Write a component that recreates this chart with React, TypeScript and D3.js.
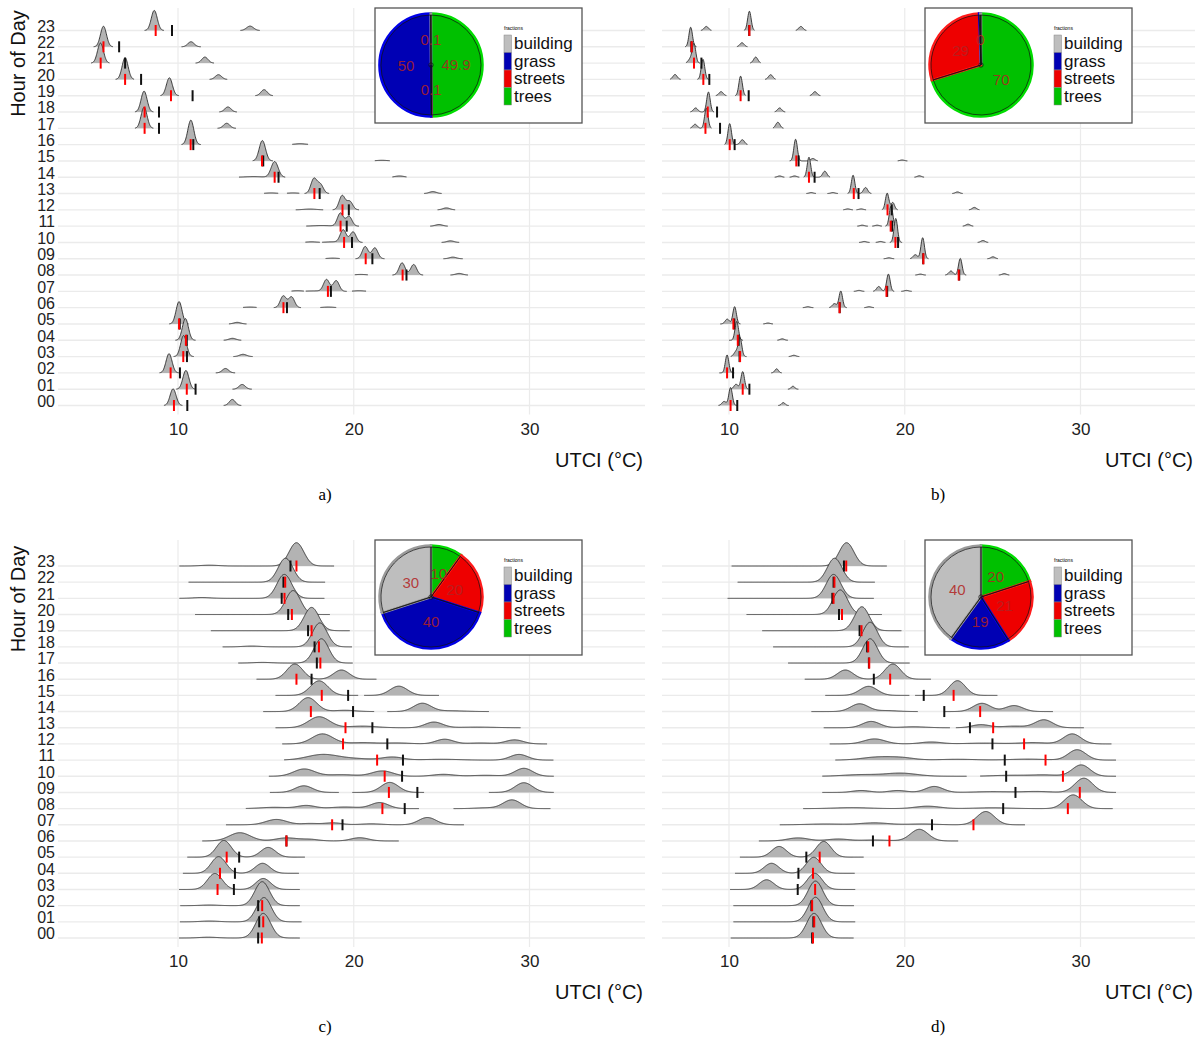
import { useEffect, useRef } from 'react'
import * as d3 from 'd3'

// hour labels, bottom row first
const hours = ['00', '01', '02', '03', '04', '05', '06', '07', '08', '09', '10', '11',
  '12', '13', '14', '15', '16', '17', '18', '19', '20', '21', '22', '23']

const categories = ['building', 'grass', 'streets', 'trees']
const catFill = ['#bebebe', '#0000b4', '#ee0000', '#00c000']
const catRing = ['#9a9a9a', '#0000e6', '#ff1a1a', '#00dc00']

// each row: list of pieces [lo, hi, mu, sd, h, mu, sd, h, ...] (UTCI °C, h in row heights)
const ridgesA: number[][][] = [
  [[9.2, 10.25, 9.72, .17, 1.02], [12.6, 13.6, 13.09, .17, .37]],
  [[9.9, 11.0, 10.45, .17, 1.15], [13.1, 14.2, 13.65, .18, .29]],
  [[8.95, 10.05, 9.49, .17, 1.18], [12.15, 13.25, 12.7, .18, .27]],
  [[9.75, 10.9, 10.32, .17, 1.29], [13.15, 14.25, 13.7, .2, .14]],
  [[9.85, 11.0, 10.42, .17, 1.33], [12.6, 13.6, 13.1, .2, .12]],
  [[9.5, 10.6, 10.06, .17, 1.37], [12.9, 13.9, 13.37, .2, .1]],
  [[13.7, 14.47, 14.1, .3, .04], [15.45, 17.0, 15.99, .17, .72, 16.46, .17, .66], [18.1, 19.0, 18.55, .3, .04]],
  [[16.46, 17.16, 16.8, .3, .04], [17.27, 19.6, 17.8, .5, .03, 18.45, .17, .72, 19.0, .17, .66], [19.9, 20.7, 20.3, .3, .04]],
  [[20.06, 20.8, 20.4, .3, .04], [22.2, 23.95, 22.75, .17, .75, 23.41, .17, .65], [25.5, 26.5, 26.0, .2, .1]],
  [[18.4, 19.2, 18.8, .3, .04], [20.1, 21.75, 20.65, .17, .75, 21.2, .17, .67], [25.1, 26.2, 25.64, .2, .1]],
  [[17.25, 18.07, 17.6, .3, .04], [18.2, 20.5, 18.8, .4, .04, 19.4, .17, .77, 19.96, .17, .65], [25.0, 26.0, 25.5, .2, .1]],
  [[17.3, 20.3, 18.2, .5, .04, 19.24, .17, .8, 19.73, .17, .6], [24.35, 25.35, 24.85, .2, .1]],
  [[16.7, 18.26, 17.5, .35, .05], [18.8, 20.3, 19.34, .17, .87, 19.77, .17, .52], [24.77, 25.77, 25.27, .2, .12]],
  [[14.9, 15.7, 15.3, .3, .04], [16.2, 16.9, 16.55, .3, .04], [17.2, 18.6, 17.73, .17, .9, 18.1, .17, .55], [24.0, 25.0, 24.5, .2, .12]],
  [[13.47, 16.1, 14.3, .5, .04, 15.5, .2, .96], [22.2, 23.0, 22.6, .25, .08]],
  [[14.25, 15.4, 14.8, .18, 1.25], [21.2, 22.05, 21.6, .3, .04]],
  [[10.2, 11.3, 10.73, .17, 1.5], [16.5, 17.4, 16.95, .3, .06]],
  [[7.55, 8.6, 8.07, .17, 1.29], [12.25, 13.3, 12.77, .18, .31]],
  [[7.55, 8.6, 8.07, .17, 1.28], [12.35, 13.35, 12.84, .18, .31]],
  [[9.0, 10.05, 9.51, .17, 1.1], [14.4, 15.4, 14.9, .18, .37]],
  [[6.45, 7.5, 6.99, .17, 1.33], [11.8, 12.8, 12.3, .18, .29]],
  [[5.05, 6.1, 5.59, .17, 1.23], [11.0, 12.05, 11.53, .18, .37]],
  [[5.2, 6.3, 5.76, .17, 1.26], [10.2, 11.3, 10.74, .18, .31]],
  [[8.1, 9.2, 8.65, .17, 1.23], [13.55, 14.65, 14.1, .2, .27]],
]
const redA = [9.77, 10.5, 9.58, 10.3, 10.45, 10.06, 16.0, 18.53, 22.78, 20.68, 19.45, 19.25,
  19.36, 17.76, 15.5, 14.78, 10.72, 8.1, 8.1, 9.6, 6.99, 5.6, 5.76, 8.73]
const blackA = [10.53, 11.0, 10.11, 10.51, 10.5, 10.1, 16.2, 18.7, 23.0, 21.06, 19.9, 19.6,
  19.72, 18.06, 15.72, 14.85, 10.87, 8.92, 8.92, 10.83, 7.9, 6.99, 6.65, 9.66]

const ridgesB: number[][][] = [
  [[9.4, 10.45, 9.72, .12, .25, 10.09, .1, 1.1], [12.8, 13.4, 13.09, .1, .18]],
  [[10.1, 11.1, 10.4, .12, .3, 10.78, .1, 1.08], [13.35, 13.95, 13.64, .1, .18]],
  [[9.45, 10.3, 9.89, .1, 1.1], [12.4, 13.0, 12.71, .1, .25]],
  [[10.1, 11.0, 10.4, .12, .3, 10.63, .1, 1.12], [13.4, 14.0, 13.69, .12, .08]],
  [[10.0, 10.8, 10.44, .1, 1.15], [12.75, 13.35, 13.03, .12, .09]],
  [[9.5, 10.65, 9.9, .12, .3, 10.32, .1, 1.06], [11.95, 12.5, 12.22, .12, .06]],
  [[14.2, 14.8, 14.49, .12, .06], [15.7, 16.7, 16.0, .12, .25, 16.36, .1, 1.02], [17.7, 18.25, 17.97, .12, .06]],
  [[17.1, 17.7, 17.4, .12, .06], [18.2, 19.4, 18.52, .12, .3, 19.07, .1, 1.06], [19.8, 20.4, 20.1, .12, .06]],
  [[20.6, 21.2, 20.89, .12, .06], [22.3, 23.5, 22.63, .12, .25, 23.16, .1, 1.02], [25.35, 25.95, 25.66, .12, .09]],
  [[18.8, 19.4, 19.1, .12, .06], [20.3, 21.35, 20.6, .12, .25, 21.02, .1, 1.29], [24.7, 25.3, 25.02, .12, .12]],
  [[17.4, 18.0, 17.7, .12, .06], [18.35, 18.9, 18.62, .12, .06], [19.15, 19.85, 19.49, .1, 1.47], [24.15, 24.75, 24.45, .12, .12]],
  [[17.3, 17.9, 17.58, .12, .06], [18.15, 18.7, 18.43, .12, .06], [18.9, 19.6, 19.22, .1, 1.23], [23.3, 23.9, 23.6, .12, .12]],
  [[16.5, 17.05, 16.76, .12, .06], [17.25, 17.8, 17.52, .12, .06], [18.7, 19.6, 19.0, .1, 1.02, 19.32, .1, .45], [23.65, 24.25, 23.96, .12, .15]],
  [[14.4, 14.95, 14.68, .12, .06], [15.6, 16.2, 15.91, .12, .06], [16.75, 18.1, 17.06, .1, 1.12, 17.77, .12, .37], [22.7, 23.3, 23.0, .12, .1]],
  [[12.6, 13.15, 12.88, .12, .08], [13.45, 14.0, 13.73, .12, .08], [14.25, 15.75, 14.55, .1, 1.23, 15.45, .12, .37], [20.55, 21.1, 20.83, .12, .09]],
  [[13.45, 15.05, 13.79, .1, 1.33, 14.77, .12, .15], [19.6, 20.15, 19.85, .12, .06]],
  [[9.75, 11.05, 10.04, .1, 1.29, 10.76, .12, .3]],
  [[7.8, 9.0, 8.07, .12, .25, 8.71, .1, 1.23], [12.5, 13.1, 12.78, .12, .37]],
  [[7.8, 9.15, 8.1, .12, .25, 8.83, .1, 1.23], [12.6, 13.2, 12.88, .12, .25]],
  [[9.25, 9.85, 9.55, .12, .25], [10.35, 10.95, 10.66, .1, 1.2], [14.6, 15.2, 14.89, .12, .25]],
  [[6.65, 7.25, 6.93, .12, .3], [8.2, 8.85, 8.52, .1, 1.23], [12.05, 12.65, 12.37, .12, .29]],
  [[7.55, 8.35, 7.8, .12, .25, 8.01, .1, 1.15], [11.2, 11.8, 11.52, .12, .37]],
  [[7.5, 8.15, 7.82, .1, 1.2], [10.45, 11.05, 10.74, .12, .25]],
  [[8.4, 9.0, 8.71, .12, .25], [10.85, 11.45, 11.16, .1, 1.18], [13.8, 14.4, 14.09, .12, .25]],
]
const redB = [10.09, 10.78, 9.89, 10.63, 10.5, 10.25, 16.29, 18.96, 23.07, 21.06, 19.47, 19.2,
  19.02, 17.1, 14.55, 13.83, 10.04, 8.66, 8.79, 10.66, 8.54, 8.01, 7.88, 11.16]
const blackB = [10.47, 11.16, 10.23, 10.6, 10.55, 10.3, 16.3, 19.0, 23.1, 21.05, 19.62, 19.28,
  19.26, 17.37, 14.87, 13.96, 10.32, 9.49, 9.32, 11.12, 8.88, 8.43, 7.86, 11.15]

const ridgesC: number[][][] = [
  [[10.06, 16.93, 11.72, .5, .05, 14.85, .42, 1.52]],
  [[10.11, 17.03, 11.8, .5, .05, 14.89, .42, 1.5]],
  [[10.13, 16.93, 11.8, .5, .04, 14.79, .42, 1.48]],
  [[10.06, 16.93, 12.1, .42, .99, 14.85, .42, .68]],
  [[10.28, 16.88, 12.31, .42, 1.03, 14.81, .42, .62]],
  [[10.53, 17.22, 12.61, .42, 1.03, 15.13, .42, .6]],
  [[11.38, 22.56, 13.52, .6, .51, 16.17, .6, .19, 17.5, .5, .1, 20.34, .5, .2]],
  [[12.73, 26.27, 15.6, .6, .33, 17.5, .5, .08, 18.83, .5, .12, 21.0, .6, .06, 24.19, .5, .45]],
  [[13.86, 23.71, 15.5, .8, .08, 17.31, .5, .19, 19.5, .8, .1, 21.48, .5, .37], [25.68, 31.19, 27.5, .6, .05, 29.0, .5, .54]],
  [[15.23, 19.15, 17.16, .5, .41], [19.92, 24.0, 22.05, .5, .62], [27.69, 31.38, 29.68, .5, .6]],
  [[15.17, 31.38, 17.18, .6, .45, 19.3, .8, .1, 21.63, .6, .33, 25.1, .6, .12, 27.5, .8, .06, 29.68, .5, .49]],
  [[16.04, 31.36, 18.26, .9, .35, 20.2, .8, .08, 22.2, .6, .19, 25.0, 1, .05, 29.4, .5, .35]],
  [[15.93, 31.0, 18.22, .6, .62, 20.5, .8, .08, 22.5, .7, .06, 25.17, .5, .29, 27.2, .7, .06, 29.15, .5, .25]],
  [[15.55, 29.49, 18.03, .6, .68, 20.5, .8, .1, 24.56, .5, .35, 27.0, 1, .04]],
  [[14.85, 21.16, 17.4, .5, .86, 19.5, .6, .08], [21.91, 27.69, 23.9, .5, .51, 25.5, .8, .05]],
  [[15.55, 20.25, 18.03, .5, .9], [20.59, 24.85, 22.56, .5, .57]],
  [[14.47, 21.29, 16.65, .45, .94, 19.3, .45, .57]],
  [[13.43, 19.94, 14.8, .5, .04, 18.16, .42, 1.5]],
  [[12.54, 19.9, 14.2, .5, .05, 18.07, .42, 1.48]],
  [[11.87, 19.77, 17.6, .42, 1.44]],
  [[10.97, 18.64, 16.55, .42, 1.48]],
  [[10.08, 18.33, 11.36, .5, .05, 16.05, .42, 1.48]],
  [[10.6, 18.37, 16.12, .42, 1.48]],
  [[10.08, 18.88, 11.8, .5, .05, 16.74, .42, 1.44]],
]
const redC = [14.77, 14.85, 14.79, 12.25, 12.39, 12.77, 16.17, 18.77, 21.63, 22.0, 21.76, 21.33,
  19.39, 19.53, 17.56, 18.18, 16.74, 18.1, 18.02, 17.6, 16.48, 16.06, 16.1, 16.74]
const blackC = [14.56, 14.62, 14.56, 13.18, 13.24, 13.48, 16.17, 19.36, 22.9, 23.62, 22.75, 22.8,
  21.91, 21.06, 19.96, 19.68, 17.6, 17.9, 17.77, 17.4, 16.27, 15.9, 16.0, 16.4]

const ridgesD: number[][][] = [
  [[10.1, 17.09, 14.84, .42, 1.52]],
  [[10.25, 17.18, 14.92, .42, 1.52]],
  [[10.25, 17.11, 14.92, .42, 1.52]],
  [[10.06, 17.18, 12.14, .42, .6, 14.88, .42, 1.0]],
  [[10.34, 17.15, 12.42, .42, .62, 14.82, .42, .99]],
  [[10.62, 17.66, 12.85, .42, .66, 15.39, .42, .97]],
  [[11.7, 23.04, 13.93, .6, .19, 16.2, .6, .12, 18.3, .8, .06, 20.83, .5, .72]],
  [[12.89, 26.84, 15.5, 1, .05, 18.28, .8, .12, 21.0, .8, .05, 24.61, .5, .82]],
  [[14.22, 31.83, 17.0, 1, .06, 21.3, .7, .15, 25.0, 1, .05, 29.58, .5, .85]],
  [[15.31, 32.02, 17.52, .5, .12, 19.6, .5, .12, 21.68, .5, .37, 25.0, 1, .05, 27.5, .8, .06, 30.19, .5, .88]],
  [[15.31, 23.52, 17.5, 1, .1, 19.79, .9, .19], [24.29, 32.02, 26.0, 1, .06, 28.0, .8, .08, 30.04, .5, .7]],
  [[16.05, 32.02, 18.5, .9, .19, 19.9, .7, .12, 23.0, 1, .05, 27.0, 1, .06, 29.81, .5, .64]],
  [[15.73, 31.76, 18.28, .6, .31, 21.5, .6, .12, 24.5, 1, .05, 27.3, .8, .08, 29.53, .5, .62]],
  [[15.39, 22.57, 18.09, .5, .39, 20.5, .7, .06], [22.91, 30.19, 24.33, .5, .19, 26.2, .7, .1, 27.92, .5, .49]],
  [[14.69, 20.74, 17.43, .5, .48, 19.0, .6, .06], [22.25, 28.43, 24.39, .5, .51, 26.22, .5, .37]],
  [[15.48, 20.26, 17.94, .5, .56], [20.59, 25.27, 23.0, .45, .91]],
  [[14.31, 21.49, 16.62, .45, .57, 19.32, .45, .94]],
  [[13.36, 20.28, 18.03, .42, 1.5]],
  [[12.51, 20.23, 18.03, .42, 1.52]],
  [[11.89, 19.81, 17.56, .42, 1.48]],
  [[11.0, 18.7, 16.33, .42, 1.52]],
  [[9.92, 18.24, 15.95, .42, 1.48]],
  [[10.49, 18.3, 16.01, .42, 1.48]],
  [[10.15, 18.98, 16.69, .42, 1.44]],
]
const redD = [14.78, 14.85, 14.73, 14.9, 14.78, 15.16, 19.13, 23.91, 29.28, 29.96, 29.0, 28.01,
  26.79, 25.03, 24.29, 22.78, 19.17, 17.98, 17.92, 17.54, 16.43, 15.95, 16.0, 16.67]
const blackD = [14.73, 14.8, 14.69, 13.91, 13.95, 14.4, 18.19, 21.55, 25.6, 26.3, 25.77, 25.69,
  24.99, 23.71, 22.25, 21.08, 18.24, 17.96, 17.86, 17.43, 16.26, 15.88, 15.95, 16.54]

// land cover fractions in %, order as categories
const pieA = [0.1, 50, 0.1, 49.9]
const pieB = [0.2, 0.4, 29.2, 70.2]
const pieC = [30, 40, 20, 10]
const pieD = [40, 19, 21, 20]
const pieLabelsA = ['0.1', '50', '0.1', '49.9']
const pieLabelsB = ['', '0', '29', '70']
const pieLabelsC = ['30', '40', '20', '10']
const pieLabelsD = ['40', '19', '21', '20']

const xTicks = [10, 20, 30]
const sans = '"Liberation Sans", Arial, Helvetica, sans-serif'

function densityPoints(piece: number[]) {
  const lo = piece[0]
  const hi = piece[1]
  const n = Math.max(30, Math.ceil((hi - lo) / 0.02))
  const pts: [number, number][] = []
  for (let i = 0; i <= n; i++) {
    const v = lo + ((hi - lo) * i) / n
    let d = 0
    for (let k = 2; k + 2 < piece.length; k += 3) {
      const z = (v - piece[k]) / piece[k + 1]
      d += piece[k + 2] * Math.exp(-0.5 * z * z)
    }
    pts.push([v, d])
  }
  return pts
}

export default function App() {
  const svgRef = useRef<SVGSVGElement | null>(null)

  useEffect(() => {
    if (!svgRef.current) return
    const svg = d3.select(svgRef.current)
    svg.selectAll('*').remove()

    const panels = [
      { ridges: ridgesA, red: redA, black: blackA, pie: pieA, labels: pieLabelsA, x10: 178, y0: 405.5, y23: 30.5, left: 58, top: 8, right: 645, box: [375, 8], yAxis: true, cap: 'a)', capX: 325 },
      { ridges: ridgesB, red: redB, black: blackB, pie: pieB, labels: pieLabelsB, x10: 729, y0: 405.5, y23: 30.5, left: 662, top: 8, right: 1195, box: [925, 8], yAxis: false, cap: 'b)', capX: 938 },
      { ridges: ridgesC, red: redC, black: blackC, pie: pieC, labels: pieLabelsC, x10: 178, y0: 938, y23: 566, left: 58, top: 540, right: 645, box: [375, 540], yAxis: true, cap: 'c)', capX: 325 },
      { ridges: ridgesD, red: redD, black: blackD, pie: pieD, labels: pieLabelsD, x10: 729, y0: 938, y23: 566, left: 662, top: 540, right: 1195, box: [925, 540], yAxis: false, cap: 'd)', capX: 938 },
    ]

    panels.forEach(p => {
      const x = d3.scaleLinear().domain([10, 30]).range([p.x10, p.x10 + 351.5])
      const y = d3.scaleLinear().domain([0, 23]).range([p.y0, p.y23])
      const unit = (p.y0 - p.y23) / 23
      const bottom = p.y0 + 9
      const g = svg.append('g')

      // grid
      g.selectAll('line.vgrid')
        .data(xTicks)
        .enter()
        .append('line')
        .attr('x1', d => x(d))
        .attr('x2', d => x(d))
        .attr('y1', p.top)
        .attr('y2', bottom)
        .attr('stroke', '#ebebeb')
        .attr('stroke-width', 1.2)
      g.selectAll('line.hgrid')
        .data(hours)
        .enter()
        .append('line')
        .attr('x1', p.left)
        .attr('x2', p.right)
        .attr('y1', (d, i) => y(i))
        .attr('y2', (d, i) => y(i))
        .attr('stroke', '#ebebeb')
        .attr('stroke-width', 1.4)

      // ridges, top row first so lower rows sit in front
      for (let h = 23; h >= 0; h--) {
        const base = y(h)
        p.ridges[h].forEach(piece => {
          const pts = densityPoints(piece)
          const area = d3.area<[number, number]>()
            .x(d => x(d[0]))
            .y0(base)
            .y1(d => base - d[1] * unit)
          const line = d3.line<[number, number]>()
            .x(d => x(d[0]))
            .y(d => base - d[1] * unit)
          g.append('path').attr('d', area(pts)).attr('fill', '#b3b3b3')
          g.append('path')
            .attr('d', line(pts))
            .attr('fill', 'none')
            .attr('stroke', '#2a2a2a')
            .attr('stroke-width', 0.9)
        })
      }

      // median / mean ticks
      const tick = (vals: number[], color: string) =>
        g.selectAll(null)
          .data(vals)
          .enter()
          .append('line')
          .attr('x1', d => x(d))
          .attr('x2', d => x(d))
          .attr('y1', (d, i) => y(i) - 5.5)
          .attr('y2', (d, i) => y(i) + 5.5)
          .attr('stroke', color)
          .attr('stroke-width', 2)
      tick(p.black, '#111')
      tick(p.red, '#ff0000')

      // x axis
      const xAxis = g.append('g')
        .attr('transform', `translate(0, ${p.y0 + 29})`)
        .call(d3.axisBottom(x).tickValues(xTicks).tickSize(0).tickPadding(0).tickFormat(d3.format('d')))
      xAxis.select('.domain').remove()
      xAxis.selectAll('text')
        .attr('dy', 0)
        .style('font-family', sans)
        .style('font-size', '17px')
        .attr('fill', '#222')
      g.append('text')
        .attr('x', p.right - 2)
        .attr('y', p.y0 + 61)
        .attr('text-anchor', 'end')
        .style('font-family', sans)
        .style('font-size', '20px')
        .attr('fill', '#111')
        .text('UTCI (°C)')

      // y axis
      if (p.yAxis) {
        const yAxis = g.append('g')
          .attr('transform', `translate(55, 0)`)
          .call(d3.axisLeft(y).tickValues(d3.range(24)).tickSize(0).tickPadding(0).tickFormat((d, i) => hours[i]))
        yAxis.select('.domain').remove()
        yAxis.selectAll('text')
          .attr('dy', '0.05em')
          .style('font-family', sans)
          .style('font-size', '16px')
          .attr('fill', '#222')
        g.append('text')
          .attr('transform', `translate(25, ${p.y23 + 33}) rotate(-90)`)
          .attr('text-anchor', 'middle')
          .style('font-family', sans)
          .style('font-size', '20px')
          .attr('fill', '#111')
          .text('Hour of Day')
      }

      // caption
      g.append('text')
        .attr('x', p.capX)
        .attr('y', p.y0 + 94)
        .attr('text-anchor', 'middle')
        .style('font-family', '"Liberation Serif", "Times New Roman", serif')
        .style('font-size', '17px')
        .text(p.cap)

      // inset: pie + legend
      const [bx, by] = p.box
      g.append('rect')
        .attr('x', bx)
        .attr('y', by)
        .attr('width', 207)
        .attr('height', 115)
        .attr('fill', 'white')
        .attr('stroke', '#555')
        .attr('stroke-width', 1.3)

      const R = 50
      const order = [3, 2, 1, 0]
      const pie = d3.pie<number>().sort(null).value(i => p.pie[i])
      const slices = pie(order)
      const pg = g.append('g').attr('transform', `translate(${bx + 56}, ${by + 57})`)
      const outer = d3.arc<d3.PieArcDatum<number>>().innerRadius(0).outerRadius(R + 1.5)
      const inner = d3.arc<d3.PieArcDatum<number>>().innerRadius(0).outerRadius(R)
      pg.selectAll('path.slice')
        .data(slices)
        .enter()
        .append('path')
        .attr('d', outer)
        .attr('fill', d => catFill[d.data])
        .attr('stroke', d => catRing[d.data])
        .attr('stroke-width', 2.5)
      pg.selectAll('path.edge')
        .data(slices)
        .enter()
        .append('path')
        .attr('d', inner)
        .attr('fill', 'none')
        .attr('stroke', '#111')
        .attr('stroke-width', 0.7)
      pg.append('circle').attr('r', 2.2).attr('fill', 'none').attr('stroke', '#111').attr('stroke-width', 0.7)
      pg.selectAll('text')
        .data(slices)
        .enter()
        .append('text')
        .attr('transform', d => `translate(${inner.centroid(d)})`)
        .attr('text-anchor', 'middle')
        .attr('dy', '0.36em')
        .style('font-family', sans)
        .style('font-size', '15px')
        .attr('fill', '#b22222')
        .attr('fill-opacity', 0.85)
        .text(d => p.labels[d.data])

      const lg = g.append('g').attr('transform', `translate(${bx + 129}, ${by + 22})`)
      lg.append('text')
        .attr('x', 0)
        .attr('y', 0)
        .style('font-family', sans)
        .style('font-size', '5px')
        .text('fractions')
      categories.forEach((c, i) => {
        lg.append('rect')
          .attr('x', 0)
          .attr('y', 5 + i * 17.5)
          .attr('width', 7.5)
          .attr('height', 17.5)
          .attr('fill', catFill[i])
          .attr('stroke', '#888')
          .attr('stroke-width', 0.5)
        lg.append('text')
          .attr('x', 10)
          .attr('y', 5 + i * 17.5 + 14)
          .style('font-family', sans)
          .style('font-size', '17px')
          .attr('fill', '#111')
          .text(c)
      })
    })
  }, [])

  return (
    <svg
      ref={svgRef}
      width={1200}
      height={1040}
      style={{ position: 'absolute', left: 0, top: 0, background: 'white' }}
    />
  )
}
